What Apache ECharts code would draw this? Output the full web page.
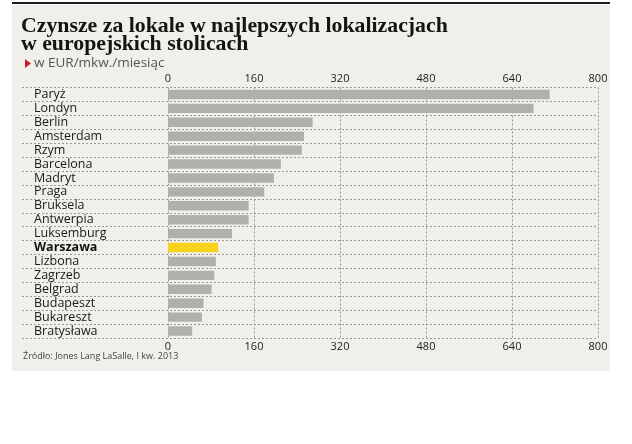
<!DOCTYPE html>
<html>
<head>
	<meta charset="UTF-8">
	<title>Czynsze za lokale</title>
	<script src="https://cdn.jsdelivr.net/npm/echarts@6/dist/echarts.min.js"></script>
	<style>
		html, body { margin: 0; padding: 0; background: #fff; }
		#container { width: 632px; height: 444px; }
	</style>
</head>
<body>
	<div id="container"></div>
	<script>
		// dane: czynsze w EUR/mkw./miesiac (I kw. 2013)
		var cities = ['Paryż', 'Londyn', 'Berlin', 'Amsterdam', 'Rzym', 'Barcelona', 'Madryt', 'Praga',
			'Bruksela', 'Antwerpia', 'Luksemburg', 'Warszawa', 'Lizbona', 'Zagrzeb', 'Belgrad',
			'Budapeszt', 'Bukareszt', 'Bratysława'];
		var rents = [710, 680, 269, 253, 249, 210, 197, 179, 150, 150, 119, 93, 89, 86, 81, 66, 63, 45];
		var highlight = 'Warszawa';
		var ticks = [0, 160, 320, 480, 640, 800];

		var myChart = echarts.init(document.getElementById('container'));
		var font = '"Open Sans", sans-serif';
		var dotted = { color: '#9a9893', width: 1, type: [2, 2] };

		var option = {
			animation: false,
			graphic: [
				{ type: 'rect', z: -10, shape: { x: 12, y: 5, width: 598, height: 366 }, style: { fill: '#f1efea' } },
				{ type: 'rect', z: -9, shape: { x: 12, y: 2, width: 598, height: 2 }, style: { fill: '#1e1e1e' } },
				{ type: 'polygon', shape: { points: [[25, 59], [25, 68], [31, 63.5]] }, style: { fill: '#c8202a' } }
			],
			title: [
				{
					text: 'Czynsze za lokale w najlepszych lokalizacjach\nw europejskich stolicach',
					left: 21, top: 17, padding: 0,
					textStyle: { fontFamily: '"Liberation Serif", serif', fontWeight: 'bold', fontSize: 21.8, lineHeight: 18.5, color: '#141414' }
				},
				{
					text: 'w EUR/mkw./miesiąc',
					left: 34, top: 56, padding: 0,
					textStyle: { fontFamily: font, fontWeight: 'normal', fontSize: 13.5, color: '#555' }
				},
				{
					text: 'Źródło: Jones Lang LaSalle, I kw. 2013',
					left: 23, top: 352, padding: 0,
					textStyle: { fontFamily: font, fontWeight: 'normal', fontSize: 9, color: '#444' }
				}
			],
			grid: [
				{ left: 22, right: 34, top: 87.5, bottom: 106 },
				{ left: 168, right: 34, top: 87.5, bottom: 106 }
			],
			xAxis: [
				{ gridIndex: 0, type: 'value', show: false, min: 0, max: 1 },
				{
					gridIndex: 1, type: 'value', position: 'top', min: 0, max: 800, interval: 160,
					axisLine: { show: false }, axisTick: { show: false },
					axisLabel: { margin: 3, fontFamily: font, fontSize: 11, color: '#222' },
					splitLine: { show: true, lineStyle: dotted }
				},
				{
					gridIndex: 1, type: 'value', position: 'bottom', min: 0, max: 800, interval: 160,
					axisLine: { show: false }, axisTick: { show: false },
					axisLabel: { margin: 3, fontFamily: font, fontSize: 11, color: '#222' },
					splitLine: { show: false }
				}
			],
			yAxis: [
				{
					gridIndex: 0, type: 'category', data: cities, inverse: true,
					axisLine: { show: false }, axisTick: { show: false },
					splitLine: { show: true, interval: 0, lineStyle: dotted },
					axisLabel: {
						inside: true, interval: 0, margin: 12, fontFamily: font, fontSize: 12.5, color: '#1a1a1a',
						formatter: function (v) { return v === highlight ? '{b|' + v + '}' : v; },
						rich: { b: { fontFamily: font, fontSize: 12.5, fontWeight: 'bold', color: '#111' } }
					}
				},
				{ gridIndex: 1, type: 'category', data: cities, inverse: true, show: false }
			],
			series: [
				{
					type: 'bar', xAxisIndex: 1, yAxisIndex: 1,
					barCategoryGap: '32%',
					data: rents,
					itemStyle: {
						color: function (p) { return cities[p.dataIndex] === highlight ? '#f7d21a' : '#b1afab'; }
					}
				}
			]
		};

		myChart.setOption(option, true);
	</script>
</body>
</html>
